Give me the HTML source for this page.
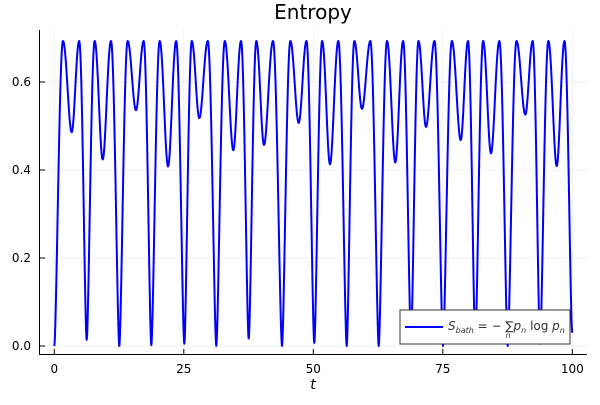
<!DOCTYPE html>
<html><head><meta charset="utf-8"><style>
body{margin:0;background:#fff}
svg text{font-family:"DejaVu Sans","Liberation Sans",sans-serif}
</style></head><body>
<svg id="chart" width="600" height="400" viewBox="0 0 600 400" xmlns="http://www.w3.org/2000/svg">
<rect width="600" height="400" fill="#fff"/>
<text x="313" y="19" text-anchor="middle" font-size="20" fill="#000">Entropy</text>
<g id="grid"></g>
<g id="axes"></g>
<path id="series" fill="none" stroke="#0000ff" stroke-width="2" stroke-linejoin="round"/>
<g>
<rect x="400" y="310" width="170" height="34" fill="#fff" stroke="#333" stroke-width="1"/>
<line x1="405" y1="327" x2="443" y2="327" stroke="#0000ff" stroke-width="2"/>
<text x="448" y="330" font-size="12" fill="#333" font-family="Liberation Serif,serif" font-style="italic">S<tspan font-size="8" dy="3">bath</tspan><tspan dy="-3" font-style="normal"> = − </tspan><tspan font-style="normal" font-size="12">∑</tspan><tspan font-size="8" dy="8" dx="-8">n</tspan><tspan dy="-8" dx="3">p</tspan><tspan font-size="8" dy="3">n</tspan><tspan dy="-3" font-style="normal"> log </tspan>p<tspan font-size="8" dy="3">n</tspan></text>
</g>
<text x="313" y="389" text-anchor="middle" font-size="14" font-style="italic" font-family="Liberation Serif,serif">t</text>
</svg>
<script>
const minTimes=[3.36,6.25,9.34,12.55,15.77,18.73,21.96,25.10,27.99,31.27,34.56,37.53,40.48,43.96,47.18,50.19,53.22,56.45,59.40,62.63,65.83,68.86,71.76,75.04,78.46,81.27,84.30,87.53,90.93,93.77,96.99];
const minValues=[0.486,0.014,0.424,0,0.536,0.002,0.408,0.005,0.518,0,0.445,0.017,0.457,0,0.507,0.007,0.413,0,0.539,0,0.417,0.02,0.498,0,0.468,0.01,0.438,0,0.526,0.005,0.409];
const startValue=0, endValue=0.03, tEnd=100, maxValue=0.693;
const xTicks=[0,25,50,75,100];
const yTicks=[0,0.2,0.4,0.6];
const yTickLabels=["0.0","0.2","0.4","0.6"];

const X=t=>54.3+t*5.18;
const Y=v=>346-v*440;
const NS="http://www.w3.org/2000/svg";
const grid=document.getElementById('grid'), axes=document.getElementById('axes');
function mk(tag,attrs,parent){const e=document.createElementNS(NS,tag);for(const k in attrs)e.setAttribute(k,attrs[k]);parent.appendChild(e);return e;}
xTicks.forEach(t=>{
  const g=mk('line',{x1:X(t),x2:X(t),y1:30,y2:354,stroke:'#000','stroke-opacity':0.1,'stroke-width':0.5},grid);
  
  
  const tk=mk('line',{x1:X(t),x2:X(t),y1:354,y2:349,stroke:'#000'},axes);
  
  
  const tx=mk('text',{x:X(t),y:373,'text-anchor':'middle','font-size':12,fill:'#000'},axes);
  tx.textContent=t;
  
  
});
yTicks.forEach((v,i)=>{
  const g=mk('line',{x1:40,x2:587,y1:Y(v),y2:Y(v),stroke:'#000','stroke-opacity':0.1,'stroke-width':0.5},grid);
  
  
  const tk=mk('line',{x1:40,x2:45,y1:Y(v),y2:Y(v),stroke:'#000'},axes);
  
  
  const tx=mk('text',{x:31,y:Y(v)+4,'text-anchor':'end','font-size':12,fill:'#000'},axes);
  tx.textContent=yTickLabels[i];
  
  
});
const xa=mk('line',{x1:39.5,x2:587,y1:354.5,y2:354.5,stroke:'#000','stroke-width':1},axes);


const ya=mk('line',{x1:39.5,x2:39.5,y1:30,y2:355,stroke:'#000','stroke-width':1},axes);



const H=p=>(p<=0||p>=1)?0:-(p*Math.log(p)+(1-p)*Math.log(1-p));
function invH(v){if(v>=maxValue)return 0.5;let lo=0,hi=0.5;for(let i=0;i<50;i++){const m=(lo+hi)/2;if(H(m)<v)lo=m;else hi=m;}return (lo+hi)/2;}
const times=[0,...minTimes,tEnd], vals=[startValue,...minValues,endValue];
const ext=[];
for(let i=0;i<times.length;i++){
  ext.push([times[i],vals[i],0]);
  if(i<times.length-1)ext.push([(times[i]+times[i+1])/2,maxValue,1]);
}
let d='';
for(let i=0;i<ext.length-1;i++){
  const [t0,v0,m0]=ext[i],[t1,v1]=ext[i+1];
  const p0=invH(v0),p1=invH(v1);
  const N=30;
  for(let k=(i?1:0);k<=N;k++){
    const s=k/N;
    // flat in p at minima, linear crossing at p=0.5 (the maxima)
    const e=m0?Math.sin(Math.PI*s/2):(1-Math.cos(Math.PI*s/2));
    const p=p0+(p1-p0)*e;
    const t=t0+(t1-t0)*s;
    d+=(d?'L':'M')+X(t).toFixed(2)+','+Y(H(p)).toFixed(2);
  }
}
document.getElementById('series').setAttribute('d',d);
</script>
</body></html>
